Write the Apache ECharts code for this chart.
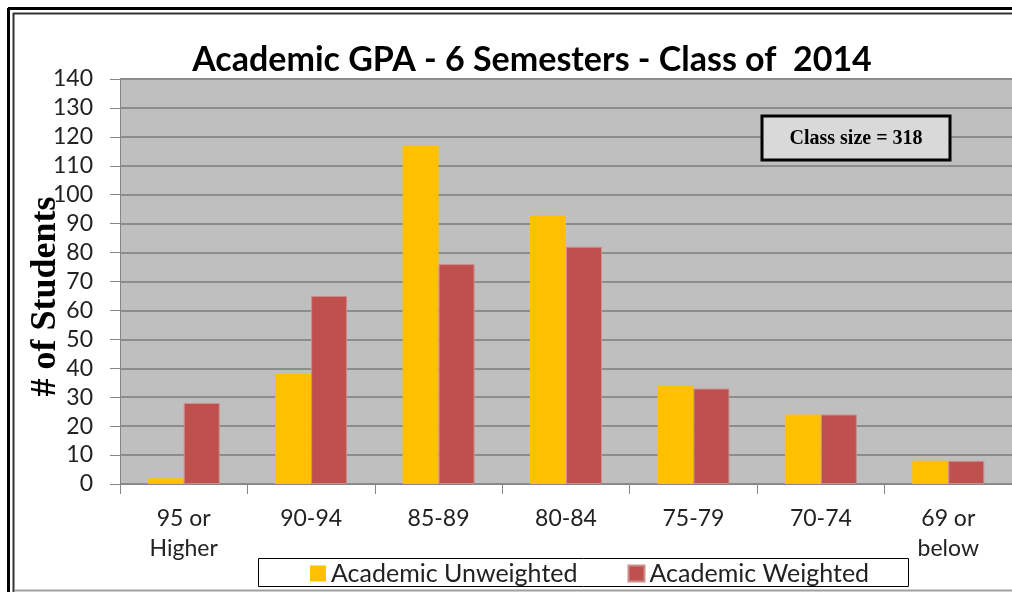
<!DOCTYPE html>
<html>
<head>
<meta charset="utf-8">
<script src="https://cdn.jsdelivr.net/npm/echarts@6/dist/echarts.min.js"></script>
<style>
    html, body { margin: 0; padding: 0; background: #fff; }
    #container { width: 1012px; height: 592px; }
</style>
</head>
<body>
<div id="container"></div>
<script>
    // GPA ranges on the x axis
    var categories = ['95 or\nHigher', '90-94', '85-89', '80-84', '75-79', '70-74', '69 or\nbelow'];
    var unweighted = [2, 38, 117, 93, 34, 24, 8];
    var weighted = [28, 65, 76, 82, 33, 24, 8];
    var seriesNames = ['Academic Unweighted', 'Academic Weighted'];
    var yTicks = {min: 0, max: 140, interval: 10};

    var chart = echarts.init(document.getElementById('container'));

    var option = {
        backgroundColor: '#fff',
        animation: false,
        color: ['#FFC000', '#C0504D'],
        title: {
            text: 'Academic GPA - 6 Semesters - Class of  2014',
            left: 527,
            top: 38,
            textAlign: 'center',
            textStyle: {
                fontFamily: 'Lato',
                fontWeight: 'bold',
                fontSize: 34,
                color: '#000'
            }
        },
        grid: {
            left: 120,
            right: 0,
            top: 79,
            bottom: 108,
            show: true,
            backgroundColor: '#BFBFBF',
            borderWidth: 0
        },
        legend: {
            data: seriesNames,
            left: 310,
            top: 561,
            icon: 'rect',
            itemWidth: 16,
            itemHeight: 16,
            itemGap: 50,
            padding: 0,
            textStyle: {
                fontFamily: 'Lato',
                fontSize: 25,
                color: '#222'
            }
        },
        xAxis: {
            type: 'category',
            data: categories,
            axisTick: {
                show: true,
                length: 10,
                lineStyle: {color: '#868686', width: 1}
            },
            axisLine: {
                lineStyle: {color: '#868686', width: 1}
            },
            axisLabel: {
                interval: 0,
                margin: 20,
                fontFamily: 'Lato',
                fontSize: 23,
                lineHeight: 30,
                color: '#222'
            }
        },
        yAxis: {
            type: 'value',
            min: yTicks.min,
            max: yTicks.max,
            interval: yTicks.interval,
            name: '# of Students',
            nameLocation: 'middle',
            nameGap: 56,
            nameMoveOverlap: false,
            nameTextStyle: {
                fontFamily: 'Liberation Serif',
                fontWeight: 'bold',
                fontSize: 36,
                color: '#000',
                padding: [0, 30, 0, 0]
            },
            axisLine: {
                show: true,
                lineStyle: {color: '#868686', width: 1}
            },
            axisTick: {
                show: true,
                length: 10,
                lineStyle: {color: '#868686', width: 1}
            },
            axisLabel: {
                margin: 27,
                fontFamily: 'Lato',
                fontSize: 23,
                color: '#222'
            },
            splitLine: {
                lineStyle: {color: '#8C8C8C', width: 2}
            }
        },
        series: [
            {
                name: seriesNames[0],
                type: 'bar',
                data: unweighted,
                barWidth: 36,
                barGap: '0%'
            },
            {
                name: seriesNames[1],
                type: 'bar',
                data: weighted,
                barWidth: 36,
                itemStyle: {borderColor: '#C98F8D', borderWidth: 1}
            }
        ],
        graphic: [
            // outer frame (double line at top and left, cut off on the right)
            {type: 'line', shape: {x1: 8.5, y1: 8, x2: 8.5, y2: 592}, style: {stroke: '#000', lineWidth: 3}},
            {type: 'line', shape: {x1: 8, y1: 8.5, x2: 1012, y2: 8.5}, style: {stroke: '#000', lineWidth: 3}},
            {type: 'line', shape: {x1: 13.5, y1: 13, x2: 13.5, y2: 592}, style: {stroke: '#333', lineWidth: 2}},
            {type: 'line', shape: {x1: 13, y1: 13.5, x2: 1012, y2: 13.5}, style: {stroke: '#333', lineWidth: 2}},
            {type: 'line', shape: {x1: 15, y1: 590.5, x2: 1012, y2: 590.5}, style: {stroke: '#A0A0A0', lineWidth: 2}},
            // legend box
            {
                type: 'rect',
                z: -1,
                shape: {x: 258.5, y: 558.5, width: 650, height: 28},
                style: {fill: '#fff', stroke: '#000', lineWidth: 1}
            },
            // class size note
            {
                type: 'rect',
                z: 10,
                shape: {x: 762, y: 116, width: 188, height: 44},
                style: {fill: '#D9D9D9', stroke: '#000', lineWidth: 3}
            },
            {
                type: 'text',
                z: 11,
                x: 856,
                y: 139,
                style: {
                    text: 'Class size = 318',
                    fontFamily: 'Liberation Serif',
                    fontWeight: 'bold',
                    fontSize: 20,
                    fill: '#000',
                    textAlign: 'center',
                    textVerticalAlign: 'middle'
                }
            }
        ]
    };

    chart.setOption(option);
</script>
</body>
</html>
